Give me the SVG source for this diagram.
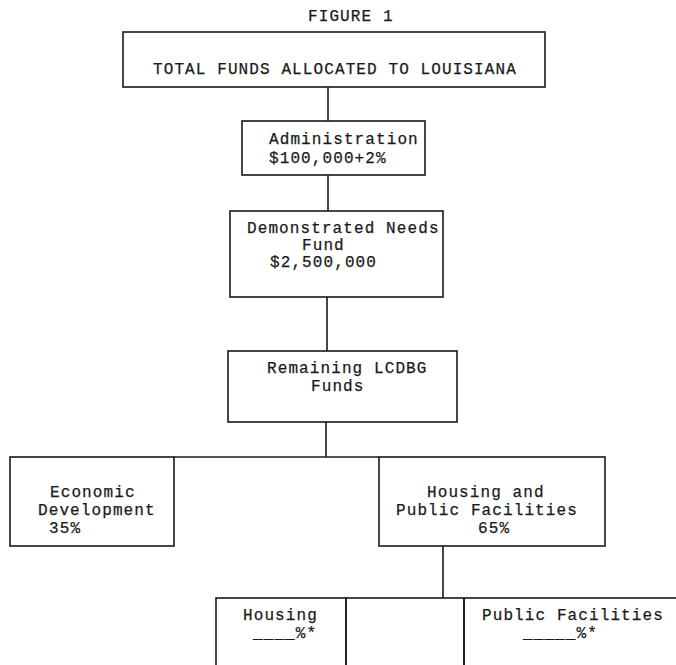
<svg xmlns="http://www.w3.org/2000/svg" width="676" height="665" viewBox="0 0 676 665">
<style>
  .box { fill: none; stroke: #1a1a1a; stroke-width: 1.6; }
  .conn { fill: none; stroke: #1a1a1a; stroke-width: 1.6; }
  text { font-family: "Liberation Mono", "Courier New", monospace; font-size: 16px; letter-spacing: 1.1px; fill: #1a1a1a; stroke: #1a1a1a; stroke-width: 0.25; }
</style>
<rect width="676" height="665" fill="#ffffff"/>
<text id="title" x="308" y="21">FIGURE 1</text>
<g id="connectors">
  <line class="conn" x1="328" y1="87" x2="328" y2="121"/>
  <line class="conn" x1="328" y1="175" x2="328" y2="211"/>
  <line class="conn" x1="327" y1="297" x2="327" y2="351"/>
  <line class="conn" x1="326" y1="422" x2="326" y2="457"/>
  <line class="conn" x1="174" y1="457" x2="379" y2="457"/>
  <line class="conn" x1="443" y1="546" x2="443" y2="598"/>
</g>
<g id="total">
  <rect class="box" x="123" y="32" width="422" height="55"/>
  <text x="153" y="74">TOTAL FUNDS ALLOCATED TO LOUISIANA</text>
</g>
<g id="administration">
  <rect class="box" x="242" y="121" width="183" height="54"/>
  <text x="269" y="144">Administration</text>
  <text x="269" y="163">$100,000+2%</text>
</g>
<g id="demonstrated">
  <rect class="box" x="230" y="211" width="213" height="86"/>
  <text x="247" y="233">Demonstrated Needs</text>
  <text x="302" y="250">Fund</text>
  <text x="270" y="267">$2,500,000</text>
</g>
<g id="remaining">
  <rect class="box" x="228" y="351" width="229" height="71"/>
  <text x="267" y="373">Remaining LCDBG</text>
  <text x="311" y="391">Funds</text>
</g>
<g id="economic">
  <rect class="box" x="10" y="457" width="164" height="89"/>
  <text x="50" y="497">Economic</text>
  <text x="38" y="515">Development</text>
  <text x="49" y="533">35%</text>
</g>
<g id="housing-public">
  <rect class="box" x="379" y="457" width="226" height="89"/>
  <text x="427" y="497">Housing and</text>
  <text x="396" y="515">Public Facilities</text>
  <text x="478" y="533">65%</text>
</g>
<g id="housing">
  <rect class="box" x="216" y="598" width="130" height="100"/>
  <text x="243" y="620">Housing</text>
  <text x="253" y="638">____%*</text>
</g>
<g id="middle">
  <rect class="box" x="346" y="598" width="118" height="100"/>
</g>
<g id="public-facilities">
  <rect class="box" x="464" y="598" width="260" height="100"/>
  <text x="482" y="620">Public Facilities</text>
  <text x="523" y="638">_____%*</text>
</g>
</svg>
